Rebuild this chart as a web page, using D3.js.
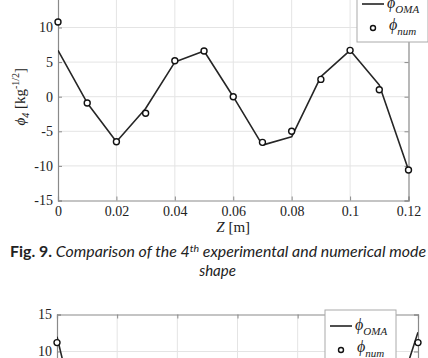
<!DOCTYPE html>
<html><head><meta charset="utf-8">
<script src="https://cdn.jsdelivr.net/npm/d3@7"></script>
<style>
html,body{margin:0;padding:0;background:#fff;}
svg{display:block;}
</style></head>
<body>
<svg id="chart" width="428" height="358"></svg>
<script>
// ---- data ----
const zPositions = [0, 0.01, 0.02, 0.03, 0.04, 0.05, 0.06, 0.07, 0.08, 0.09, 0.10, 0.11, 0.12];
const phiOMA4 = [6.7, -0.9, -6.5, -1.7, 5.0, 6.6, 0.0, -7.0, -5.8, 2.9, 6.7, 1.7, -10.6];
const phiNum4 = [10.8, -0.9, -6.5, -2.4, 5.2, 6.6, 0.0, -6.6, -5.0, 2.5, 6.7, 1.0, -10.6];
const phiOMA5 = [12.0, -5.0, -11.0, -3.0, 5.0, 4.0, -6.0, -10.0, 2.0, 5.0, 3.0, 0.0, 12.6];
const phiNum5 = [11.2, -4.5, -10.5, -3.5, 5.0, 3.5, -6.0, -9.5, 2.0, 4.5, 3.5, 0.5, 11.2];
const xTicks = [0, 0.02, 0.04, 0.06, 0.08, 0.1, 0.12];
const yTicks = [-15, -10, -5, 0, 5, 10, 15];
const captionBold = "Fig. 9.";
const captionItalic = ["Comparison of the 4", "th", " experimental and numerical mode"];
const captionLine2 = "shape";

const svg = d3.select("#chart");
const serif = "'Liberation Serif','Times New Roman',serif";

function drawPanel(opt){
  const x = d3.scaleLinear().domain([0, 0.12]).range([opt.left, opt.right]);
  const y = d3.scaleLinear().domain([-15, 15]).range([opt.bottom, opt.top]);
  const g = svg.append("g");
  const clipId = "clip" + opt.id;
  svg.append("clipPath").attr("id", clipId).append("rect")
    .attr("x", opt.left).attr("y", opt.top).attr("width", opt.right - opt.left).attr("height", opt.bottom - opt.top);

  // grid
  g.append("g").selectAll("line").data(xTicks.slice(1, -1)).join("line")
    .attr("x1", d => x(d)).attr("x2", d => x(d)).attr("y1", opt.top).attr("y2", opt.bottom)
    .attr("stroke", "#e4e4e4").attr("stroke-width", 1);
  g.append("g").selectAll("line").data(yTicks.slice(1, -1)).join("line")
    .attr("y1", d => y(d)).attr("y2", d => y(d)).attr("x1", opt.left).attr("x2", opt.right)
    .attr("stroke", "#e4e4e4").attr("stroke-width", 1);

  // axes with inward ticks
  const fmtX = d => d === 0 ? "0" : String(+d.toFixed(2));
  const fmtY = d => String(d).replace("\u2212", "-");
  const axB = g.append("g").attr("transform", `translate(0,${opt.bottom})`)
    .call(d3.axisBottom(x).tickValues(xTicks).tickSize(-4).tickPadding(6).tickFormat(fmtX));
  const axT = g.append("g").attr("transform", `translate(0,${opt.top})`)
    .call(d3.axisTop(x).tickValues(xTicks).tickSize(-4).tickFormat(""));
  const axL = g.append("g").attr("transform", `translate(${opt.left},0)`)
    .call(d3.axisLeft(y).tickValues(yTicks).tickSize(-4).tickPadding(5).tickFormat(fmtY));
  const axR = g.append("g").attr("transform", `translate(${opt.right},0)`)
    .call(d3.axisRight(y).tickValues(yTicks).tickSize(-4).tickFormat(""));
  [axB, axT, axL, axR].forEach(a => {
    a.select(".domain").attr("stroke", "#8a8a8a").attr("stroke-width", 1.2);
    a.selectAll(".tick line").attr("stroke", "#8a8a8a");
    a.selectAll(".tick text").attr("font-family", serif).attr("font-size", 14).attr("fill", "#222");
  });

  // OMA line
  const line = d3.line().x((d, i) => x(zPositions[i])).y(d => y(d));
  g.append("path").datum(opt.oma).attr("d", line).attr("fill", "none")
    .attr("stroke", "#262626").attr("stroke-width", 1.6).attr("stroke-linejoin", "round")
    .attr("clip-path", `url(#${clipId})`);
  // numerical markers
  g.append("g").selectAll("circle").data(opt.num).join("circle")
    .attr("cx", (d, i) => x(zPositions[i])).attr("cy", d => y(d)).attr("r", 3)
    .attr("fill", "#fff").attr("stroke", "#111").attr("stroke-width", 1.4);

  // legend
  const L = opt.legX, T = opt.legY;
  const lg = g.append("g");
  lg.append("rect").attr("x", L).attr("y", T).attr("width", 71).attr("height", 54)
    .attr("fill", "#fff").attr("stroke", "#aaa").attr("stroke-width", 1);
  lg.append("line").attr("x1", L + 5).attr("x2", L + 27).attr("y1", T + 16).attr("y2", T + 16)
    .attr("stroke", "#222").attr("stroke-width", 1.6);
  const t1 = lg.append("text").attr("x", L + 30).attr("y", T + 20).attr("font-family", serif).attr("font-style", "italic").attr("fill", "#222");
  t1.append("tspan").attr("font-size", 16).text("ϕ");
  t1.append("tspan").attr("font-size", 11).attr("dy", 5).text("OMA");
  lg.append("circle").attr("cx", L + 16).attr("cy", T + 40).attr("r", 2.5)
    .attr("fill", "#fff").attr("stroke", "#111").attr("stroke-width", 1.4);
  const t2 = lg.append("text").attr("x", L + 32).attr("y", T + 42).attr("font-family", serif).attr("font-style", "italic").attr("fill", "#222");
  t2.append("tspan").attr("font-size", 16).text("ϕ");
  t2.append("tspan").attr("font-size", 11).attr("dy", 5).text("num");

  return {x, y};
}

// Panel 1 (Fig. 9)
const p1 = {id: 1, left: 58, right: 408.5, top: -7.1, bottom: 200.5, oma: phiOMA4, num: phiNum4, legX: 357, legY: -12};
drawPanel(p1);
// axis labels for panel 1
const xl = svg.append("text").attr("x", (p1.left + p1.right) / 2).attr("y", 232).attr("text-anchor", "middle")
  .attr("font-family", serif).attr("font-size", 15).attr("fill", "#222");
xl.append("tspan").attr("font-style", "italic").text("Z");
xl.append("tspan").text(" [m]");
const yl = svg.append("text").attr("transform", `translate(25,${(p1.top + p1.bottom) / 2}) rotate(-90)`)
  .attr("text-anchor", "middle").attr("font-family", serif).attr("font-size", 15).attr("fill", "#222");
yl.append("tspan").attr("font-style", "italic").text("ϕ");
yl.append("tspan").attr("font-size", 10).attr("dy", 4).attr("font-style", "italic").text("4");
yl.append("tspan").attr("dy", -4).text(" [kg");
yl.append("tspan").attr("font-size", 10).attr("dy", -6).text("-1/2");
yl.append("tspan").attr("dy", 6).text("]");

// Caption
const cap = svg.append("text").attr("x", 10).attr("y", 257).attr("font-family", "Lato, 'Open Sans', sans-serif")
  .attr("font-size", 15).attr("fill", "#222").attr("textLength", 416).attr("lengthAdjust", "spacingAndGlyphs");
cap.append("tspan").attr("font-weight", "bold").text(captionBold + "  ");
cap.append("tspan").attr("font-style", "italic").text(captionItalic[0]);
cap.append("tspan").attr("font-style", "italic").attr("font-size", 10).attr("dy", -5).text(captionItalic[1]);
cap.append("tspan").attr("font-style", "italic").attr("dy", 5).text(captionItalic[2]);
svg.append("text").attr("x", 217.5).attr("y", 276).attr("text-anchor", "middle")
  .attr("font-family", "Lato, 'Open Sans', sans-serif").attr("font-style", "italic")
  .attr("font-size", 15).attr("fill", "#222").text(captionLine2);

// Panel 2 (next figure, partially visible)
drawPanel({id: 2, left: 57, right: 418, top: 314.5, bottom: 536.5, oma: phiOMA5, num: phiNum5, legX: 325, legY: 310});
</script>
</body></html>
